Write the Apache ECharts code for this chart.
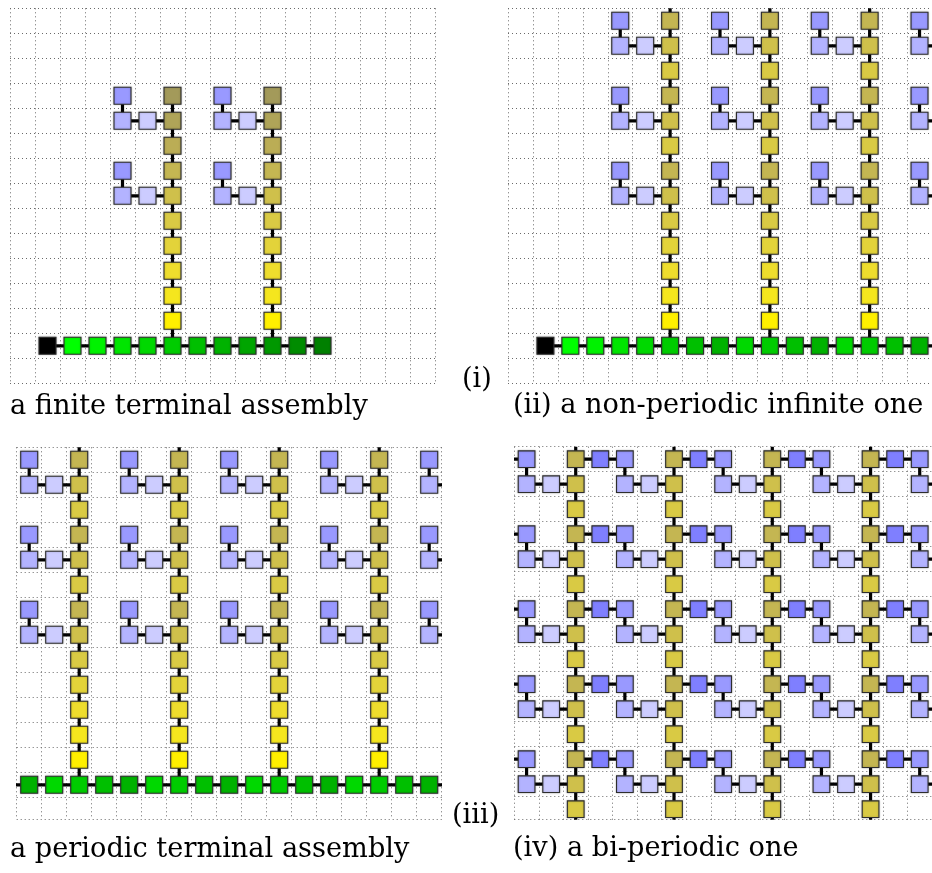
<!DOCTYPE html>
<html><head><meta charset="utf-8">
<script src="https://cdn.jsdelivr.net/npm/echarts@6/dist/echarts.min.js"></script>
<style>html,body{margin:0;padding:0;background:#fff}#c{width:932px;height:873px}</style>
</head><body><div id="c"></div>
<script>
// ---- tile colours (keys used in the maps) ----
const tileColors = {
  K: '#000000',
  a: '#00FF00', b: '#00F200', c: '#00E500', d: '#00D800', e: '#00CC00', f: '#00BF00',
  g: '#00B200', h: '#00A500', i: '#009800', j: '#008C00', k: '#008000',
  '1': '#FFF000', '2': '#F5E61E', '3': '#EEDD2D', '4': '#E3D33A', '5': '#D9CA44',
  '6': '#CFC04B', '7': '#C4B652', '8': '#BBAD55', '9': '#AFA458', '0': '#A39A5A',
  P: '#9999FF', Q: '#B3B3FF', R: '#CCCCFF', S: '#7F7FFF'
};

// ---- panel (i): a finite terminal assembly (rows 0..14, cols 0..16) ----
const mapI = [
  ".................",
  ".................",
  ".................",
  "....P.0.P.0......",
  "....QR9.QR9......",
  "......8...8......",
  "....P.7.P.7......",
  "....QR6.QR6......",
  "......5...5......",
  "......4...4......",
  "......3...3......",
  "......2...2......",
  "......1...1......",
  ".Kabcdefghijk....",
  "................."
];
const offI = [0, 0];   // [first row, first col]

// ---- panel (ii): non-periodic infinite (rows -1..14, cols 0..17) ----
const mapII = [
  "......5...5...5...",
  "....P.7.P.7.P.7.P.",
  "....QR6.QR6.QR6.QR",
  "......5...5...5...",
  "....P.7.P.7.P.7.P.",
  "....QR6.QR6.QR6.QR",
  "......5...5...5...",
  "....P.7.P.7.P.7.P.",
  "....QR6.QR6.QR6.QR",
  "......5...5...5...",
  "......4...4...4...",
  "......3...3...3...",
  "......2...2...2...",
  "......1...1...1...",
  ".Kabcdefgdefgdefgd",
  ".................."
];
const offII = [-1, 0];

// ---- panel (iii): periodic terminal (rows -1..14, cols -1..17) ----
const mapIII = [
  "...5...5...5...5...",
  ".P.7.P.7.P.7.P.7.P.",
  ".QR6.QR6.QR6.QR6.QR",
  "...5...5...5...5...",
  ".P.7.P.7.P.7.P.7.P.",
  ".QR6.QR6.QR6.QR6.QR",
  "...5...5...5...5...",
  ".P.7.P.7.P.7.P.7.P.",
  ".QR6.QR6.QR6.QR6.QR",
  "...5...5...5...5...",
  "...4...4...4...4...",
  "...3...3...3...3...",
  "...2...2...2...2...",
  "...1...1...1...1...",
  "fgdefgdefgdefgdefgd",
  "..................."
];
const offIII = [-1, -1];

// ---- panel (iv): bi-periodic (rows -1..15, cols -1..17) ----
const mapIV = [
  "...5...5...5...5...",
  "SP.7SP.7SP.7SP.7SP.",
  ".QR6.QR6.QR6.QR6.QR",
  "...5...5...5...5...",
  "SP.7SP.7SP.7SP.7SP.",
  ".QR6.QR6.QR6.QR6.QR",
  "...5...5...5...5...",
  "SP.7SP.7SP.7SP.7SP.",
  ".QR6.QR6.QR6.QR6.QR",
  "...5...5...5...5...",
  "SP.7SP.7SP.7SP.7SP.",
  ".QR6.QR6.QR6.QR6.QR",
  "...5...5...5...5...",
  "SP.7SP.7SP.7SP.7SP.",
  ".QR6.QR6.QR6.QR6.QR",
  "...5...5...5...5...",
  "SP.7SP.7SP.7SP.7SP."
];
const offIV = [-1, -1];

const captions = [
  { text: 'a finite terminal assembly', x: 10, y: 420 },
  { text: '(i)', x: 462, y: 393 },
  { text: '(ii) a non-periodic infinite one', x: 513, y: 419 },
  { text: 'a periodic terminal assembly', x: 10, y: 863 },
  { text: '(iii)', x: 452, y: 829 },
  { text: '(iv) a bi-periodic one', x: 513, y: 862 }
];

// ---- layout ----
const panels = [
  { map: mapI, off: offI, rect: { left: 10, top: 8.3, width: 425, height: 375 }, cols: 17, rows: 15 },
  { map: mapII, off: offII, rect: { left: 508, top: 8.3, width: 425, height: 375 }, cols: 17, rows: 15 },
  { map: mapIII, off: offIII, rect: { left: 16.7, top: 447.3, width: 425, height: 372 }, cols: 17, rows: 14.88 },
  { map: mapIV, off: offIV, rect: { left: 514.3, top: 446.7, width: 425, height: 373 }, cols: 17, rows: 14.92 }
];

function buildPanel(map, off) {
  const tiles = [], bonds = [];
  const at = (r, c) => (r >= 0 && r < map.length && c >= 0 && c < map[r].length) ? map[r][c] : '.';
  for (let r = 0; r < map.length; r++) {
    for (let c = 0; c < map[r].length; c++) {
      const k = map[r][c];
      if (k === '.') continue;
      const x = c + off[1] + 0.5, y = r + off[0] + 0.5;
      tiles.push({ value: [x, y], itemStyle: { color: tileColors[k] } });
      if (at(r, c + 1) !== '.') bonds.push([x, y, x + 1, y]);
      if (at(r + 1, c) !== '.') bonds.push([x, y, x, y + 1]);
    }
  }
  return { tiles, bonds };
}

const gridLine = { show: true, lineStyle: { type: [1, 3], color: '#6a6a6a', width: 1 } };
const grids = [], xAxes = [], yAxes = [], series = [];
panels.forEach((p, i) => {
  grids.push(Object.assign({ containLabel: false }, p.rect));
  xAxes.push({ type: 'value', gridIndex: i, min: 0, max: p.cols, interval: 1,
    axisLine: { show: false }, axisTick: { show: false }, axisLabel: { show: false }, splitLine: gridLine });
  yAxes.push({ type: 'value', gridIndex: i, min: 0, max: p.rows, interval: 1, inverse: true,
    axisLine: { show: false }, axisTick: { show: false }, axisLabel: { show: false }, splitLine: gridLine });
  const d = buildPanel(p.map, p.off);
  series.push({
    type: 'custom', xAxisIndex: i, yAxisIndex: i, clip: true, z: 2, silent: true,
    data: d.bonds,
    renderItem: (params, api) => {
      const a = api.coord([api.value(0), api.value(1)]);
      const b = api.coord([api.value(2), api.value(3)]);
      return { type: 'line', shape: { x1: a[0], y1: a[1], x2: b[0], y2: b[1] },
        style: { stroke: '#000', lineWidth: 3.2 } };
    }
  });
  series.push({
    type: 'custom', xAxisIndex: i, yAxisIndex: i, clip: true, z: 3, silent: true,
    data: d.tiles,
    renderItem: (params, api) => {
      const c = api.coord([api.value(0), api.value(1)]);
      const s = api.size([1, 1]);
      const w = s[0] * 0.68;
      return { type: 'rect', shape: { x: c[0] - w / 2, y: c[1] - w / 2, width: w, height: w },
        style: { fill: api.visual('color'), stroke: '#2e2e2e', lineWidth: 1.1,
          shadowBlur: 2, shadowColor: 'rgba(0,0,0,0.25)' } };
    }
  });
});

// caption font size fitted to the reference width of caption (ii)
const FONT = '"DejaVu Serif", "Liberation Serif", serif';
const ctx = document.createElement('canvas').getContext('2d');
ctx.font = '100px ' + FONT;
const fs = Math.round(100 * 410 / ctx.measureText(captions[2].text).width * 10) / 10;

const graphic = captions.map(cp => ({
  type: 'text', x: cp.x, y: cp.y, silent: true,
  style: { text: cp.text, font: fs + 'px ' + FONT, fill: '#000', textVerticalAlign: 'bottom' }
}));

const chart = echarts.init(document.getElementById('c'), null, { renderer: 'canvas' });
chart.setOption({
  animation: false,
  backgroundColor: '#fff',
  grid: grids, xAxis: xAxes, yAxis: yAxes, series: series, graphic: graphic
});
</script>
</body></html>
